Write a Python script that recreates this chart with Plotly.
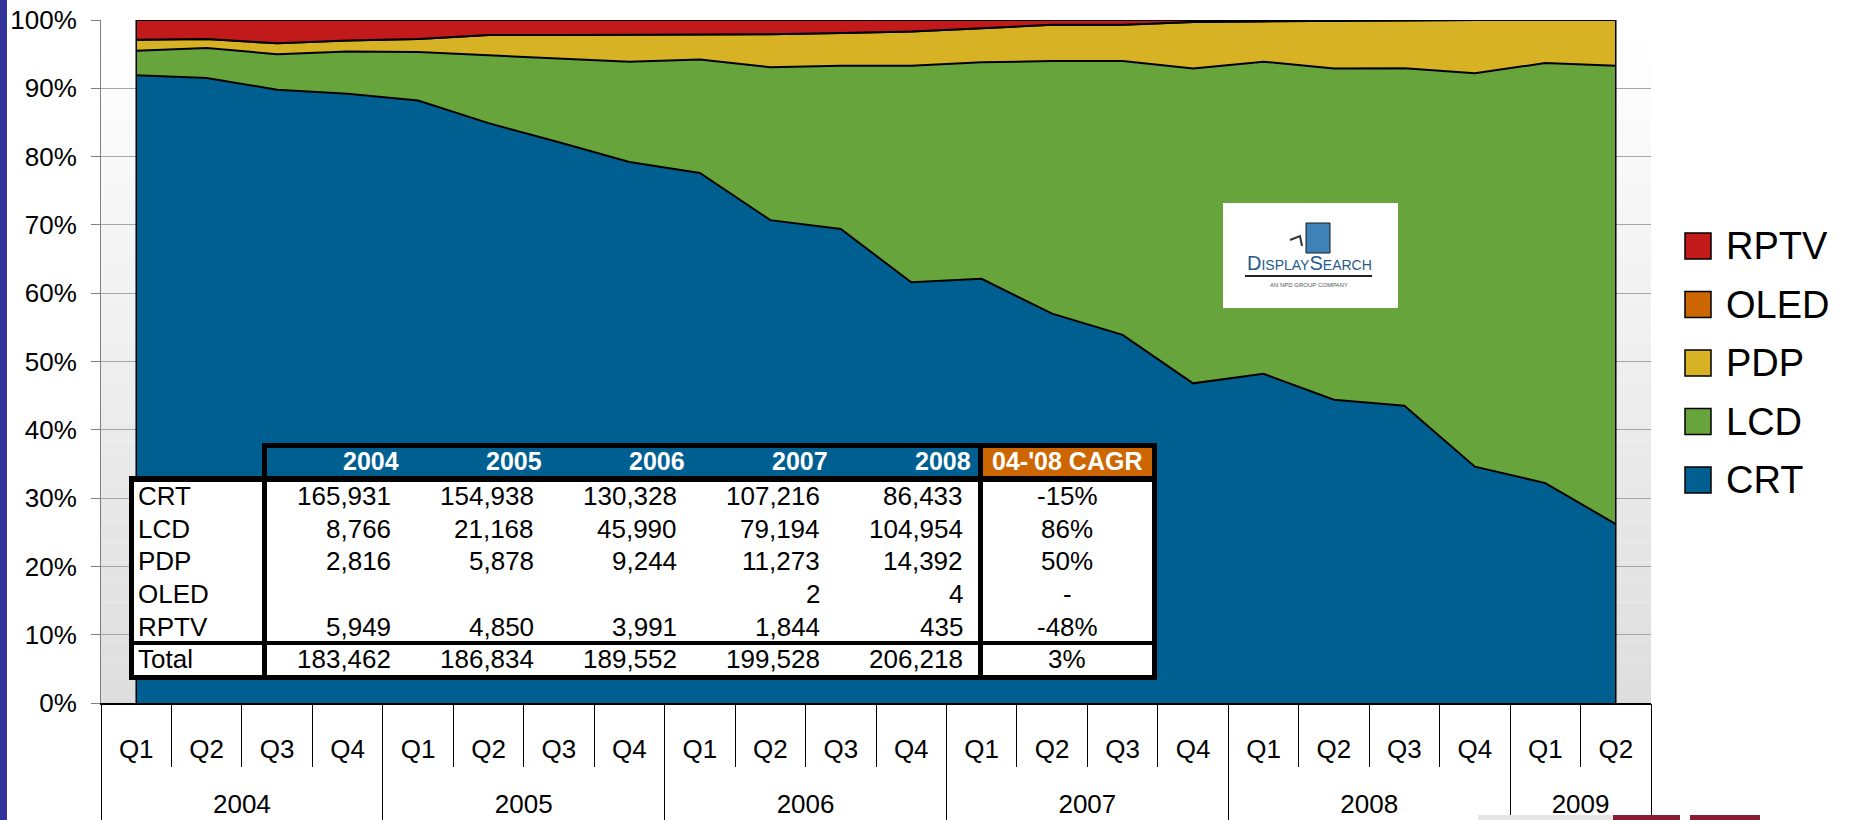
import plotly.graph_objects as go

# ---------------- data ----------------
years = ["2004"] * 4 + ["2005"] * 4 + ["2006"] * 4 + ["2007"] * 4 + ["2008"] * 4 + ["2009"] * 2
quarters = ["Q1", "Q2", "Q3", "Q4"] * 5 + ["Q1", "Q2"]

# unit share (%) per quarter
crt = [91.9, 91.5, 89.8, 89.2, 88.2, 84.9, 82.1, 79.2, 77.6, 70.7, 69.4,
       61.6, 62.1, 57.0, 53.9, 46.8, 48.2, 44.4, 43.5, 34.6, 32.2, 26.2]
lcd = [3.6, 4.4, 5.2, 6.2, 7.1, 9.9, 12.2, 14.7, 16.6, 22.4, 23.9,
       31.7, 31.7, 37.0, 40.1, 46.1, 45.7, 48.5, 49.4, 57.6, 61.5, 67.1]
pdp = [1.6, 1.3, 1.6, 1.6, 1.9, 3.0, 3.5, 3.9, 3.7, 4.8, 4.8,
       5.0, 5.0, 5.3, 5.3, 6.8, 5.9, 7.0, 7.0, 7.8, 6.3, 6.7]
oled = [0, 0, 0, 0, 0, 0, 0, 0, 0, 0, 0,
        0, 0.001, 0.001, 0.001, 0.001, 0.002, 0.002, 0.002, 0.002, 0.002, 0.002]
rptv = [2.9, 2.8, 3.4, 3.0, 2.8, 2.2, 2.2, 2.2, 2.1, 2.1, 1.9,
        1.7, 1.2, 0.7, 0.7, 0.3, 0.2, 0.1, 0.05, 0.0, 0.0, 0.0]

series_names = ["CRT", "LCD", "PDP", "OLED", "RPTV"]
series_values = [crt, lcd, pdp, oled, rptv]
series_colors = ["#005F91", "#68A43C", "#D7B224", "#CC6600", "#C21A1A"]

y_ticks = list(range(0, 101, 10))
y_ticktext = [f"{v}%" for v in y_ticks]

table_years = ["2004", "2005", "2006", "2007", "2008"]
table_rows = ["CRT", "LCD", "PDP", "OLED", "RPTV"]
table_crt = [165931, 154938, 130328, 107216, 86433]
table_lcd = [8766, 21168, 45990, 79194, 104954]
table_pdp = [2816, 5878, 9244, 11273, 14392]
table_oled = [None, None, None, 2, 4]
table_rptv = [5949, 4850, 3991, 1844, 435]
table_total = [183462, 186834, 189552, 199528, 206218]
table_cagr = ["-15%", "86%", "50%", "-", "-48%"]
table_cagr_total = "3%"
cagr_header = "04-'08 CAGR"

# ---------------- layout constants (pixels) ----------------
W, H = 1851, 820
PL, PR, PT, PB = 101, 1651, 20, 703
FONT = "Liberation Sans, Arial, sans-serif"


def fx(px):
    return (px - PL) / (PR - PL)


def fy(py):
    return (PB - py) / (PB - PT)


n = len(quarters)
idx = list(range(n))

fig = go.Figure()
for name, vals, col in zip(series_names, series_values, series_colors):
    fig.add_trace(go.Scatter(
        x=idx, y=vals, name=name, mode="lines", stackgroup="one", groupnorm="percent",
        line=dict(color="black", width=2), fillcolor=col, showlegend=False,
        hoverinfo="skip"))

# year level axis
year_names = []
for y in years:
    if y not in year_names:
        year_names.append(y)
year_centers = []
year_bounds = [-0.5]
for yname in year_names:
    pos = [i for i, y in enumerate(years) if y == yname]
    year_centers.append(sum(pos) / len(pos))
    year_bounds.append(pos[-1] + 0.5)

fig.add_trace(go.Scatter(x=year_centers, y=[0] * len(year_centers), xaxis="x2",
                         mode="markers", marker=dict(opacity=0), showlegend=False,
                         hoverinfo="skip"))

shapes = []
# plot-area gradient background
NB = 34
for k in range(NB):
    g = int(round(255 - (255 - 222) * (k + 0.5) / NB))
    shapes.append(dict(type="rect", xref="paper", yref="paper", layer="below",
                       x0=0, x1=1, y0=1 - (k + 1) / NB, y1=1 - k / NB,
                       fillcolor=f"rgb({g},{g},{g})", line=dict(width=0)))
# left slide bar
shapes.append(dict(type="rect", xref="paper", yref="paper", x0=fx(0), x1=fx(7),
                   y0=fy(H), y1=fy(0), fillcolor="#333399", line=dict(width=0)))
# data edges
for xe in (idx[0], idx[-1]):
    shapes.append(dict(type="line", xref="x", yref="y", x0=xe, x1=xe, y0=0, y1=100,
                       line=dict(color="black", width=1.5)))


def prect(x0, x1, y0, y1, color):
    shapes.append(dict(type="rect", xref="paper", yref="paper", x0=fx(x0), x1=fx(x1),
                       y0=fy(y1), y1=fy(y0), fillcolor=color, line=dict(width=0)))


# ---- table frame ----
prect(262, 1157, 443, 680, "black")
prect(129, 267, 476, 680, "black")
prect(267, 978, 448, 476, series_colors[0])
prect(983, 1152, 448, 476, "#CC6600")
for (a, b) in ((134, 262), (267, 978), (983, 1152)):
    prect(a, b, 482, 641, "white")
    prect(a, b, 645, 675, "white")

# ---- logo ----
prect(1223, 1398, 203, 308, "white")
prect(1306, 1330, 223, 253, "#3F82B8")
shapes.append(dict(type="rect", xref="paper", yref="paper", x0=fx(1306), x1=fx(1330),
                   y0=fy(253), y1=fy(223), line=dict(color="#1a1a1a", width=1)))
shapes.append(dict(type="path", xref="paper", yref="paper",
                   path=f"M {fx(1290)},{fy(240)} L {fx(1300)},{fy(236)} L {fx(1302)},{fy(246)}",
                   line=dict(color="#333333", width=2)))
prect(1245, 1372, 275, 277, "#222222")
# bottom-right partial logo
prect(1478, 1613, 815, 820, "#E6E6E6")
prect(1613, 1680, 815, 820, "#8A1C33")
prect(1690, 1760, 815, 820, "#8A1C33")

annotations = []


def txt(x, y, s, size=26, color="black", anchor="left", bold=False):
    if bold:
        s = "<b>" + s + "</b>"
    annotations.append(dict(xref="paper", yref="paper", x=fx(x), y=fy(y), text=s,
                            showarrow=False, xanchor=anchor, yanchor="middle",
                            font=dict(family=FONT, size=size, color=color)))


# table text
col_right = [393 + 143 * k for k in range(len(table_years))]
for k, yr in enumerate(table_years):
    txt(col_right[k] + 8, 461, yr, size=25, color="white", anchor="right", bold=True)
txt(1067, 461, cagr_header, size=25, color="white", anchor="center", bold=True)

row_vals = [table_crt, table_lcd, table_pdp, table_oled, table_rptv]
row_y = [496 + 32.7 * r for r in range(len(table_rows))]
for r, (rname, vals) in enumerate(zip(table_rows, row_vals)):
    txt(136, row_y[r], rname)
    for k, v in enumerate(vals):
        if v is not None:
            txt(col_right[k], row_y[r], f"{v:,}", anchor="right")
    txt(1067, row_y[r], table_cagr[r], anchor="center")
txt(136, 659, "Total")
for k, v in enumerate(table_total):
    txt(col_right[k], 659, f"{v:,}", anchor="right")
txt(1067, 659, table_cagr_total, anchor="center")

# logo text
annotations.append(dict(xref="paper", yref="paper", x=fx(1309), y=fy(263),
                        text='<span style="font-size:20px">D</span>ISPLAY<span style="font-size:20px">S</span>EARCH',
                        showarrow=False, xanchor="center", yanchor="middle",
                        font=dict(family=FONT, size=14, color="#1F5C8C")))
txt(1309, 285, "AN NPD GROUP COMPANY", size=6, color="#555555", anchor="center")

# legend (manual)
for k, name in enumerate(series_names[::-1]):
    col = series_colors[series_names.index(name)]
    cy = 246 + 58.5 * k
    shapes.append(dict(type="rect", xref="paper", yref="paper", x0=fx(1685), x1=fx(1711),
                       y0=fy(cy + 13), y1=fy(cy - 13), fillcolor=col,
                       line=dict(color="black", width=1.5)))
    txt(1724, cy, name, size=38)

fig.update_layout(
    width=W, height=H,
    margin=dict(l=PL, r=W - PR, t=PT, b=H - PB, autoexpand=False, pad=0),
    paper_bgcolor="white", plot_bgcolor="white",
    font=dict(family=FONT, size=26, color="black"),
    showlegend=False,
    xaxis=dict(range=[-0.5, n - 0.5], tickmode="array", tickvals=idx, ticktext=quarters,
               ticks="", showgrid=False, zeroline=False, showline=True,
               linecolor="black", linewidth=2, tickfont=dict(size=26, color="black"),
               ticklabelstandoff=22,
               minor=dict(tickmode="array", tickvals=[i - 0.5 for i in range(n + 1)],
                          ticks="outside", ticklen=62, tickcolor="black", tickwidth=1)),
    xaxis2=dict(range=[-0.5, n - 0.5], overlaying="x", anchor="y", side="bottom",
                tickmode="array", tickvals=year_centers, ticktext=year_names,
                ticks="", showgrid=False, zeroline=False, showline=False,
                tickfont=dict(size=26, color="black"), ticklabelstandoff=83,
                minor=dict(tickmode="array", tickvals=year_bounds, ticks="outside",
                           ticklen=H - PB, tickcolor="black", tickwidth=1)),
    yaxis=dict(range=[0, 100], tickmode="array", tickvals=y_ticks, ticktext=y_ticktext,
               ticks="outside", ticklen=9, tickcolor="#808080",
               showline=True, linecolor="#808080", linewidth=1,
               showgrid=True, gridcolor="#A6A6A6", gridwidth=1, zeroline=False,
               tickfont=dict(size=26, color="black"), ticklabelstandoff=9),
    shapes=shapes, annotations=annotations,
)

fig.write_html("out.html")
